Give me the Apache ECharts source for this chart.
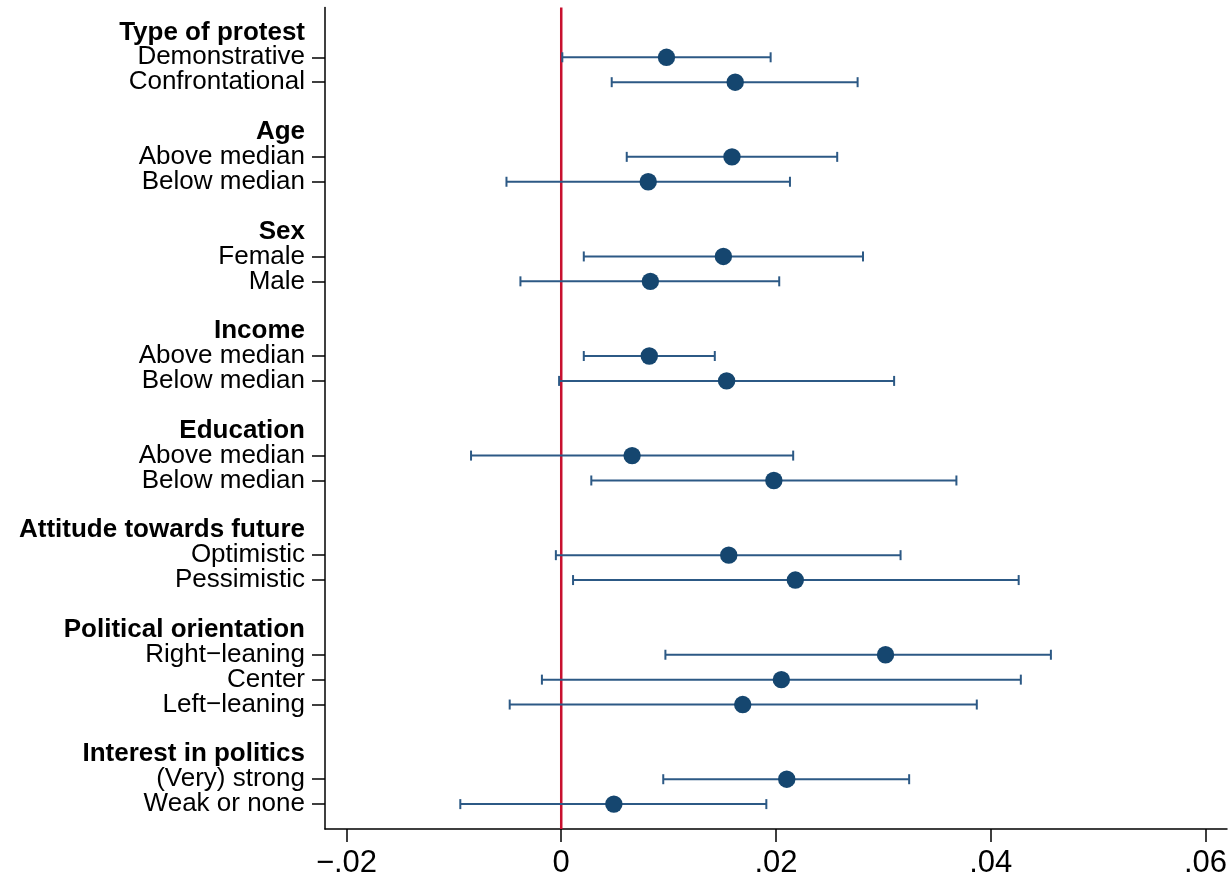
<!DOCTYPE html>
<html>
<head>
<meta charset="utf-8">
<title>Subgroup estimates</title>
<script src="https://cdn.jsdelivr.net/npm/echarts@6/dist/echarts.min.js"></script>
<style>
  html, body { margin: 0; padding: 0; background: #ffffff; }
  #chart { width: 1232px; height: 875px; }
</style>
</head>
<body>
<div id="chart"></div>
<script>
// Subgroup headings and the subgroups listed beneath each one
const groupTitles = [
  'Type of protest', 'Age', 'Sex', 'Income', 'Education',
  'Attitude towards future', 'Political orientation', 'Interest in politics'
];
const groupItems = [
  ['Demonstrative', 'Confrontational'],
  ['Above median', 'Below median'],
  ['Female', 'Male'],
  ['Above median', 'Below median'],
  ['Above median', 'Below median'],
  ['Optimistic', 'Pessimistic'],
  ['Right\u2212leaning', 'Center', 'Left\u2212leaning'],
  ['(Very) strong', 'Weak or none']
];

// Point estimates and 95% confidence bounds, one per subgroup in listing order
const estimate = [0.0098, 0.0162, 0.0159, 0.0081, 0.0151, 0.0083, 0.0082, 0.0154, 0.0066,
                  0.0198, 0.0156, 0.0218, 0.0302, 0.0205, 0.0169, 0.0210, 0.0049];
const ciLow    = [0.0001, 0.0047, 0.0061, -0.0051, 0.0021, -0.0038, 0.0021, -0.0002, -0.0084,
                  0.0028, -0.0005, 0.0011, 0.0097, -0.0018, -0.0048, 0.0095, -0.0094];
const ciHigh   = [0.0195, 0.0276, 0.0257, 0.0213, 0.0281, 0.0203, 0.0143, 0.0310, 0.0216,
                  0.0368, 0.0316, 0.0426, 0.0456, 0.0428, 0.0387, 0.0324, 0.0191];

// x-axis ticks and their printed labels
const xTicks = [-0.02, 0, 0.02, 0.04, 0.06];
const xTickLabels = ['\u2212.02', '0', '.02', '.04', '.06'];

// Row layout, top to bottom: a heading row per group, its subgroup rows,
// and an empty spacer row between groups.
const rowText = [];
const rowKind = [];
const points = [];
let k = 0;
groupTitles.forEach((title, g) => {
  rowText.push(title); rowKind.push('head');
  groupItems[g].forEach(name => {
    rowText.push(name); rowKind.push('item');
    points.push([ciLow[k], ciHigh[k], estimate[k], rowText.length - 1]);
    k++;
  });
  if (g < groupTitles.length - 1) { rowText.push(''); rowKind.push('gap'); }
});
const yMin = -1;
const yMax = rowText.length;
const itemRows = rowKind.map((t, i) => t === 'item' ? i : -1).filter(i => i >= 0);
// blank label slots at both axis ends keep every row label visible
const labelRows = [yMin].concat(
  rowKind.map((t, i) => t !== 'gap' ? i : -1).filter(i => i >= 0),
  [yMax]
);

const LINE = '#2c5985';
const DOT = '#15466f';
const FONT = 'Liberation Sans, Arial, Helvetica, sans-serif';

const chart = echarts.init(document.getElementById('chart'), null, { renderer: 'canvas' });

chart.setOption({
  animation: false,
  backgroundColor: '#ffffff',
  grid: {
    left: 325, right: 5, top: 7.5, bottom: 46,
    containLabel: false,
    outerBoundsMode: 'none'
  },
  xAxis: {
    type: 'value',
    min: -0.022,
    max: 0.062,
    axisLine: { show: true, onZero: false, lineStyle: { color: '#000', width: 1.5 } },
    axisTick: { show: true, length: 13, customValues: xTicks, lineStyle: { color: '#000', width: 1.5 } },
    axisLabel: {
      customValues: xTicks,
      margin: 19,
      fontSize: 31,
      fontFamily: FONT,
      color: '#000',
      formatter: v => {
        const i = xTicks.findIndex(t => Math.abs(t - v) < 1e-9);
        return i >= 0 ? xTickLabels[i] : '';
      }
    },
    splitLine: { show: false }
  },
  yAxis: {
    type: 'value',
    inverse: true,
    min: yMin,
    max: yMax,
    axisLine: { show: true, onZero: false, lineStyle: { color: '#000', width: 1.5 } },
    axisTick: { show: true, length: 13, customValues: itemRows, lineStyle: { color: '#000', width: 1.5 } },
    axisLabel: {
      customValues: labelRows,
      margin: 20,
      hideOverlap: false,
      formatter: v => {
        const idx = Math.round(v);
        if (rowKind[idx] === 'head') return '{h|' + rowText[idx] + '}';
        if (rowKind[idx] === 'item') return '{i|' + rowText[idx] + '}';
        return '';
      },
      rich: {
        h: { fontSize: 26, fontWeight: 'bold', fontFamily: FONT, color: '#000' },
        i: { fontSize: 26, fontFamily: FONT, color: '#000' }
      }
    },
    splitLine: { show: false }
  },
  series: [
    {
      // reference line at zero effect
      type: 'line',
      name: 'Zero',
      data: [[0, yMin], [0, yMax]],
      symbol: 'none',
      silent: true,
      z: 1,
      lineStyle: { color: '#c8102e', width: 2.5 }
    },
    {
      type: 'custom',
      name: 'Estimate',
      data: points,
      encode: { x: [0, 1, 2], y: 3 },
      z: 3,
      renderItem: (params, api) => {
        const row = api.value(3);
        const a = api.coord([api.value(0), row]);
        const b = api.coord([api.value(1), row]);
        const c = api.coord([api.value(2), row]);
        const cap = 5;
        const ls = { stroke: LINE, lineWidth: 2 };
        return {
          type: 'group',
          children: [
            { type: 'line', shape: { x1: a[0], y1: a[1], x2: b[0], y2: b[1] }, style: ls },
            { type: 'line', shape: { x1: a[0], y1: a[1] - cap, x2: a[0], y2: a[1] + cap }, style: ls },
            { type: 'line', shape: { x1: b[0], y1: b[1] - cap, x2: b[0], y2: b[1] + cap }, style: ls },
            { type: 'circle', shape: { cx: c[0], cy: c[1], r: 8.7 }, style: { fill: DOT } }
          ]
        };
      }
    }
  ]
});
</script>
</body>
</html>
